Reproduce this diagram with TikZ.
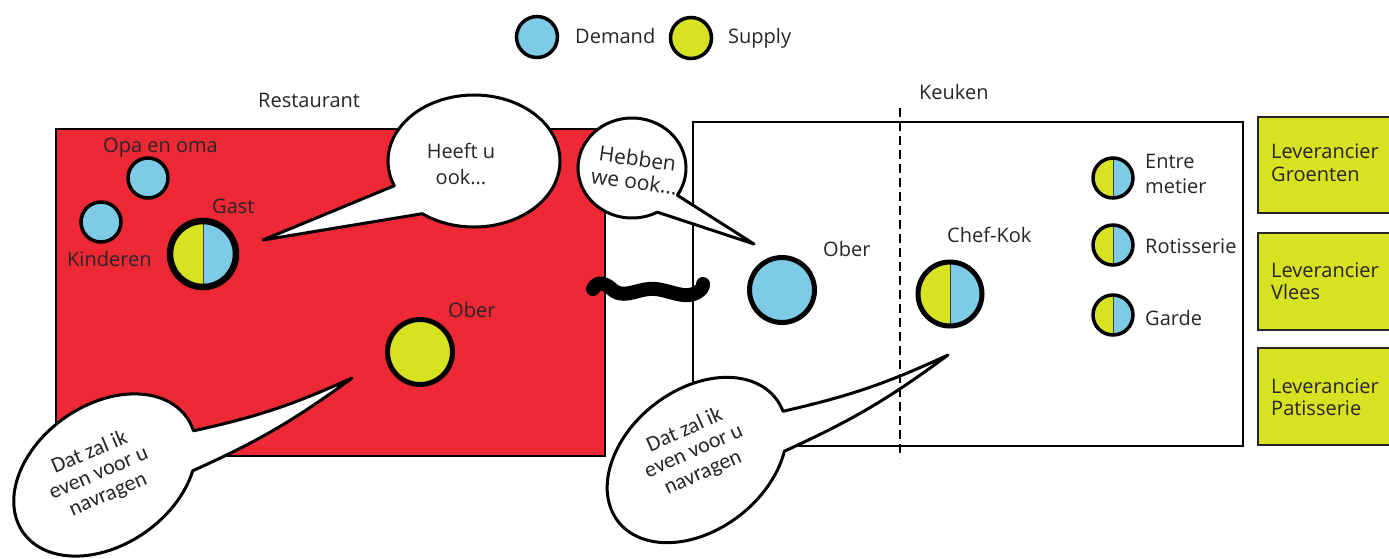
\documentclass[tikz,border=0pt]{standalone}
\usepackage{fontspec}
\setmainfont{Open Sans}
\newfontfamily\bubfont{Carlito}
\usetikzlibrary{calc}
\definecolor{demc}{RGB}{125,203,230}
\definecolor{supc}{RGB}{215,226,32}
\definecolor{redc}{RGB}{238,40,52}
\definecolor{txt}{RGB}{40,36,40}
\tikzset{
 dem/.style={circle, draw=black, fill=demc, line width=3.5pt, inner sep=0pt},
 sup/.style={circle, draw=black, fill=supc, line width=3.5pt, inner sep=0pt},
 both/.style={circle, draw=black, fill=demc, line width=3.5pt, inner sep=0pt,
   path picture={\fill[supc] (path picture bounding box.south west) rectangle (path picture bounding box.north);
   \draw[line width=0.8pt, black!75] (path picture bounding box.south) -- (path picture bounding box.north);}},
 lbl/.style={inner sep=0pt, font=\fontsize{20}{24}\selectfont, text=txt, anchor=base west},
 bubble/.style={fill=white, draw=black, line width=3pt, line join=round},
 bubtxt/.style={inner sep=0pt, text=txt},
 supbox/.style={fill=supc, draw=black!85, line width=1.8pt},
 area/.style={draw=black, line width=2.5pt},
}
\begin{document}
\begin{tikzpicture}[x=1pt,y=1pt]
\useasboundingbox (0,0) rectangle (1389,-558);
\clip (0,0) rectangle (1389,-558);
\fill[white] (0,0) rectangle (1389,-558);

% legend
\node[dem, minimum size=41] (legD) at (537,-37) {};
\node[lbl] (legDt) at (575,-43.5) {Demand};
\node[sup, minimum size=41] (legS) at (691,-38) {};
\node[lbl] (legSt) at (728,-43.5) {Supply};

% areas
\node[lbl] (restlbl) at (258,-107) {Restaurant};
\node[lbl] (keulbl) at (919,-99) {Keuken};
\draw[area, fill=redc, line width=2pt] (56,-129) rectangle (605,-456);
\draw[area] (693,-122) rectangle (1243,-446);

% supplier boxes
\draw[supbox] (1258,-117) rectangle (1400,-213);
\draw[supbox] (1258,-233) rectangle (1400,-330);
\draw[supbox] (1258,-348) rectangle (1400,-445);
\node[lbl] (lev1) at (1271,-158) {Leverancier};
\node[lbl] (lev1b) at (1271,-181) {Groenten};
\node[lbl] (lev2) at (1271,-277) {Leverancier};
\node[lbl] (lev2b) at (1271,-299) {Vlees};
\node[lbl] (lev3) at (1271,-393) {Leverancier};
\node[lbl] (lev3b) at (1271,-415) {Patisserie};

% restaurant actors
\node[dem, minimum size=40] (opa) at (148,-178) {};
\node[lbl] (opalbl) at (103,-152) {Opa en oma};
\node[dem, minimum size=40] (kind) at (101,-222) {};
\node[lbl] (kindlbl) at (67,-266) {Kinderen};
\node[both, line width=6.5pt, minimum size=66] (gast) at (203,-254) {};
\node[lbl] (gastlbl) at (212,-213) {Gast};
\node[sup, line width=5pt, minimum size=65] (ober1) at (420,-352) {};
\node[lbl] (ober1lbl) at (448,-317) {Ober};

% kitchen actors
\node[dem, line width=5pt, minimum size=65] (ober2) at (782,-290) {};
\node[lbl] (ober2lbl) at (823,-256) {Ober};
\node[both, line width=5pt, minimum size=64] (chef) at (950,-294) {};
\node[lbl] (cheflbl) at (947,-242) {Chef-Kok};
\node[both, minimum size=40] (entre) at (1113,-178) {};
\node[lbl] (entrelbl) at (1145,-168) {Entre};
\node[lbl] (entrelbl2) at (1145,-193) {metier};
\node[both, minimum size=40] (roti) at (1113,-245) {};
\node[lbl] (rotilbl) at (1145,-253) {Rotisserie};
\node[both, minimum size=40] (garde) at (1113,-315) {};
\node[lbl] (gardelbl) at (1145,-325) {Garde};

% wavy link between restaurant and kitchen
\coordinate (w1) at (593,-289);
\coordinate (w2) at (703,-284);
\draw[line width=14pt, line cap=round, line join=round] (w1)
  .. controls (597,-280) and (606,-283) .. (614,-291)
  .. controls (626,-299) and (640,-287) .. (656,-289)
  .. controls (672,-291) and (684,-299) .. (696,-293)
  .. controls (701,-290) and (703,-288) .. (w2);

% tails' tips
\coordinate (t1) at (263,-240);
\coordinate (t2) at (754,-244);
\coordinate (t3) at (352,-378);
\coordinate (t4) at (948,-355);

% bubble 1: Heeft u ook...
\begin{scope}[shift={(474,-161)}]
\draw[bubble] (233:86 and 66) arc[start angle=233, end angle=562, x radius=86, y radius=66]
  -- (t1) -- (233:86 and 66) -- cycle;
\end{scope}
\node[bubtxt, font=\fontsize{20}{26}\selectfont, align=center] (b1txt) at (461,-164) {Heeft u\\ook...};

% bubble 2: Hebben we ook...
\begin{scope}[shift={(632,-168)}]
\draw[bubble] (327:54 and 50) arc[start angle=327, end angle=658, x radius=54, y radius=50]
  -- (t2) -- (327:54 and 50) -- cycle;
\end{scope}
\node[bubtxt, font=\fontsize{21}{23}\selectfont, rotate=-8, align=center] (b2txt) at (636,-170) {Hebben\\we ook...};

% bubble 3: restaurant Ober answer
\begin{scope}[shift={(105,-475)}, rotate=35]
\draw[bubble] (-12:100 and 70) arc[start angle=-12, end angle=318, x radius=100, y radius=70]
  to[bend right=6] (t3) to[bend left=6] (-12:100 and 70) -- cycle;
\end{scope}
\begin{scope}[font=\bubfont\fontsize{22}{26}\selectfont]
\node[bubtxt, rotate=23] (b3a) at (89,-451) {Dat zal ik};
\node[bubtxt, rotate=23] (b3b) at (99,-474) {even voor u};
\node[bubtxt, rotate=23] (b3c) at (109,-497) {navragen};
\end{scope}

% bubble 4: kitchen Ober answer
\begin{scope}[shift={(697,-460)}, rotate=38]
\draw[bubble] (-12:100 and 70) arc[start angle=-12, end angle=318, x radius=100, y radius=70]
  to[bend right=6] (t4) to[bend left=6] (-12:100 and 70) -- cycle;
\end{scope}
\begin{scope}[font=\bubfont\fontsize{22}{26}\selectfont]
\node[bubtxt, rotate=24] (b4a) at (684,-429) {Dat zal ik};
\node[bubtxt, rotate=24] (b4b) at (694,-452) {even voor u};
\node[bubtxt, rotate=24] (b4c) at (704,-475) {navragen};
\end{scope}

% dashed divider inside kitchen
\coordinate (d1) at (900,-108);
\coordinate (d2) at (900,-458);
\draw[line width=2.2pt, dash pattern=on 9pt off 5pt] (d1) -- (d2);
\end{tikzpicture}
\end{document}
